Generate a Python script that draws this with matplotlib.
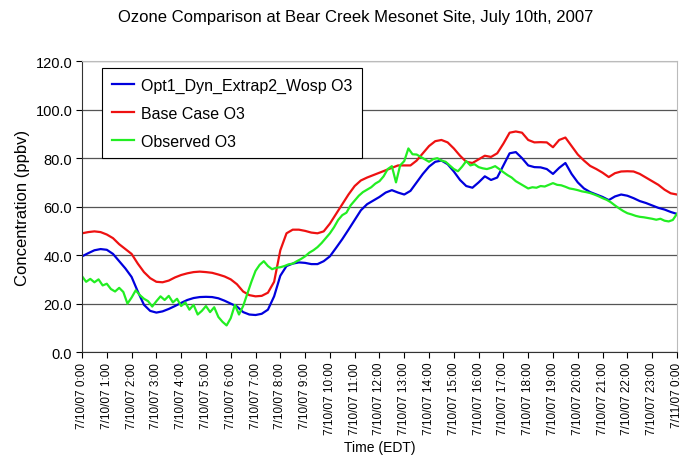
import numpy as np
import matplotlib
matplotlib.use('Agg')
import matplotlib.pyplot as plt

# model output every 15 minutes (hours since 7/10/07 0:00)
model_hours = np.arange(0, 24.01, 0.25)
opt1_o3 = [39.5, 40.8, 42.0, 42.5, 42.2, 40.5, 37.5, 34.5, 31.0, 25.0, 19.5, 17.0,
           16.3, 16.8, 17.8, 19.0, 20.3, 21.5, 22.3, 22.7, 22.8, 22.7, 22.2, 21.2,
           20.0, 18.8, 16.5, 15.5, 15.3, 15.8, 17.5, 23.0, 31.5, 35.5, 36.5, 37.0,
           36.8, 36.3, 36.3, 37.5, 39.5, 43.0, 46.6, 50.5, 54.5, 58.5, 61.0, 62.5,
           64.0, 65.8, 66.8, 65.8, 65.0, 66.5, 70.0, 73.5, 76.5, 78.5, 79.0, 77.5,
           74.5, 71.0, 68.5, 67.8, 70.0, 72.5, 71.0, 72.0, 77.0, 82.0, 82.5, 80.0,
           77.0, 76.3, 76.2, 75.5, 73.5, 76.0, 78.0, 73.5, 70.0, 67.5, 66.0, 65.0,
           64.0, 62.7, 64.2, 65.0, 64.5, 63.5, 62.3, 61.5, 60.5, 59.5, 58.8, 57.8,
           57.0]
base_o3 = [49.0, 49.5, 49.8, 49.5, 48.5, 47.0, 44.5, 42.5, 40.5, 36.5, 33.0, 30.5,
           29.0, 28.8, 29.5, 30.8, 31.8, 32.5, 33.0, 33.2, 33.0, 32.7, 32.0, 31.2,
           30.0, 28.0, 25.0, 23.5, 23.0, 23.2, 24.5, 29.0, 42.0, 49.0, 50.5, 50.5,
           50.0, 49.3, 49.0, 49.8, 53.0, 57.0, 61.0, 65.0, 68.5, 70.8, 72.0, 73.0,
           74.0, 75.0, 76.0, 77.0, 77.0, 77.0, 79.0, 82.0, 85.0, 87.0, 87.5, 86.5,
           84.0, 81.0, 78.5, 78.0, 79.5, 81.0, 80.5, 82.0, 86.0, 90.5, 91.0, 90.5,
           87.5, 86.5, 86.6, 86.5, 84.5, 87.5, 88.5, 85.0, 81.5, 79.0, 76.8, 75.5,
           74.0, 72.2, 73.8, 74.5, 74.6, 74.5, 73.5, 72.0, 70.5, 69.0, 67.0, 65.5,
           65.0]

# observations every 10 minutes
obs_hours = np.arange(0, 24.01, 1 / 6)
observed_o3 = [31.3, 29.0, 30.2, 28.8, 30.0, 27.5,
               28.2, 26.0, 25.0, 26.5, 24.8, 20.0,
               22.5, 25.5, 23.5, 22.0, 21.0, 18.8,
               21.0, 23.0, 21.5, 23.2, 20.5, 22.0,
               19.0, 20.5, 17.5, 19.5, 15.5, 17.0,
               19.0, 16.5, 18.5, 14.5, 12.5, 11.0,
               14.0, 19.5, 15.5, 19.0, 24.0, 29.0,
               33.5, 36.0, 37.5, 35.5, 34.2, 34.8,
               35.0, 35.5, 36.2, 36.5, 37.5, 38.4,
               39.5, 41.0, 42.0, 43.3, 45.0, 47.0,
               49.0, 51.5, 54.5, 56.5, 57.5, 60.5,
               62.5, 64.5, 66.0, 67.0, 68.0, 69.5,
               70.5, 72.5, 75.5, 76.7, 70.0, 77.0,
               78.8, 84.0, 81.6, 81.5, 80.5, 79.5,
               78.5, 79.6, 80.0, 79.0, 78.5, 77.0,
               75.5, 74.6, 76.5, 78.8, 77.0, 77.5,
               76.3, 75.8, 75.5, 76.0, 76.7, 75.5,
               74.2, 73.0, 72.0, 70.5, 69.5, 68.5,
               67.5, 68.0, 67.8, 68.5, 68.3, 69.0,
               69.7, 69.0, 68.8, 68.2, 67.5, 67.2,
               66.8, 66.3, 66.0, 65.6, 65.0, 64.3,
               63.5, 62.8, 61.8, 60.5, 59.3, 58.2,
               57.3, 56.8, 56.2, 55.8, 55.6, 55.3,
               55.0, 54.6, 55.0, 54.2, 53.9, 54.5,
               57.0]

tick_hours = list(range(25))
tick_labels = ['7/10/07 %d:00' % h for h in range(24)] + ['7/11/07 0:00']
y_ticks = [0, 20, 40, 60, 80, 100, 120]

plt.rcParams['font.family'] = ['Liberation Sans', 'DejaVu Sans']

fig = plt.figure(figsize=(6.95, 4.64), dpi=100)
ax = fig.add_axes([0.118, 0.239, 0.856, 0.627])

ax.plot(model_hours, opt1_o3, color='#0000dd', linewidth=1.6, label='Opt1_Dyn_Extrap2_Wosp O3')
ax.plot(model_hours, base_o3, color='#ee1111', linewidth=1.6, label='Base Case O3')
ax.plot(obs_hours, observed_o3, color='#22ee22', linewidth=1.6, label='Observed O3')

ax.set_xlim(0, 24)
ax.set_ylim(0, 120)
ax.set_xticks(tick_hours)
ax.set_xticklabels(tick_labels, rotation=90, fontsize=8.5)
ax.set_yticks(y_ticks)
ax.set_yticklabels(['%.1f' % v for v in y_ticks], fontsize=10.5)
ax.tick_params(axis='x', direction='out', length=4, pad=3)
ax.tick_params(axis='y', direction='out', length=4, pad=3)
ax.yaxis.grid(True, color='#555555', linewidth=0.9)
ax.set_axisbelow(True)

for side in ['top', 'right']:
    ax.spines[side].set_color('#bbbbbb')
ax.spines['left'].set_color('#333333')
ax.spines['bottom'].set_color('#333333')

ax.set_xlabel('Time (EDT)', fontsize=10)
ax.set_ylabel('Concentration (ppbv)', fontsize=12, labelpad=4)
fig.suptitle('Ozone Comparison at Bear Creek Mesonet Site, July 10th, 2007',
             fontsize=12, x=0.512, y=0.978)

leg = ax.legend(loc='upper left', bbox_to_anchor=(0.034, 0.975), fontsize=11.5,
                frameon=True, fancybox=False, handlelength=1.4, handletextpad=0.4,
                labelspacing=0.8, borderpad=0.6, borderaxespad=0)
leg.get_frame().set_edgecolor('black')
leg.get_frame().set_linewidth(0.8)
leg.get_frame().set_alpha(1)

fig.savefig('out.png', dpi=100)
